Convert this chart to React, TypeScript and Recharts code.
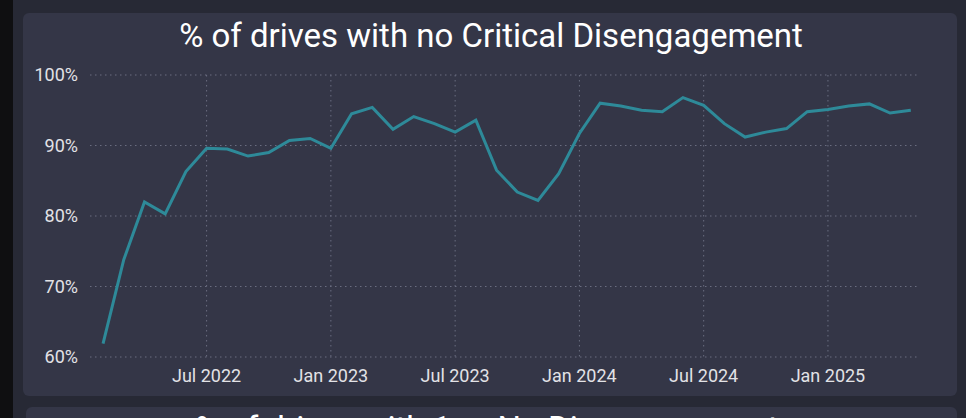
import { LineChart, Line, XAxis, YAxis, CartesianGrid } from 'recharts';

const C = {
  page: '#0f0f11',
  outer: '#272935',
  card: '#343647',
  line: '#2e8a99',
  grid: '#6a6d80',
  text: '#e2e2e6',
};

// month index 0 = Feb 2022 ... 39 = May 2025
const months = [
  'Feb 2022', 'Mar 2022', 'Apr 2022', 'May 2022', 'Jun 2022', 'Jul 2022', 'Aug 2022', 'Sep 2022',
  'Oct 2022', 'Nov 2022', 'Dec 2022', 'Jan 2023', 'Feb 2023', 'Mar 2023', 'Apr 2023', 'May 2023',
  'Jun 2023', 'Jul 2023', 'Aug 2023', 'Sep 2023', 'Oct 2023', 'Nov 2023', 'Dec 2023', 'Jan 2024',
  'Feb 2024', 'Mar 2024', 'Apr 2024', 'May 2024', 'Jun 2024', 'Jul 2024', 'Aug 2024', 'Sep 2024',
  'Oct 2024', 'Nov 2024', 'Dec 2024', 'Jan 2025', 'Feb 2025', 'Mar 2025', 'Apr 2025', 'May 2025',
];

const pctNoCritical = [
  61.9, 73.8, 82.0, 80.3, 86.3, 89.6, 89.5, 88.5, 89.0, 90.7,
  91.0, 89.6, 94.5, 95.4, 92.3, 94.1, 93.1, 91.9, 93.6, 86.5,
  83.4, 82.2, 86.0, 91.7, 96.0, 95.6, 95.0, 94.8, 96.8, 95.7,
  93.1, 91.2, 91.9, 92.4, 94.8, 95.1, 95.6, 95.9, 94.6, 95.0,
];

const xTicks = [5, 11, 17, 23, 29, 35];
const yTicks = [60, 70, 80, 90, 100];

const data = months.map((m, i) => ({ idx: i, label: m, value: pctNoCritical[i] }));

const FONT = 'Roboto, "Noto Sans", sans-serif';

export default function App() {
  return (
    <div
      style={{
        position: 'absolute', left: 0, top: 0, width: 966, height: 418,
        overflow: 'hidden', background: C.outer, fontFamily: FONT,
      }}
    >
      <div style={{ position: 'absolute', left: 0, top: 0, width: 13, height: 418, background: C.page }} />
      <div
        style={{
          position: 'absolute', left: 23, top: 13, width: 934, height: 383,
          background: C.card, borderRadius: 6,
        }}
      />
      <div
        style={{
          position: 'absolute', left: 26, top: 407, width: 931, height: 60,
          background: C.card, borderRadius: 6,
        }}
      />
      <div
        style={{
          position: 'absolute', left: 0, top: 14, width: 982, textAlign: 'center',
          color: '#ffffff', fontSize: 33, lineHeight: '44px',
        }}
      >
        % of drives with no Critical Disengagement
      </div>
      <div
        style={{
          position: 'absolute', left: 0, top: 407, width: 974, textAlign: 'center',
          color: '#ffffff', fontSize: 33, lineHeight: '44px',
        }}
      >
        % of drives with 1 or No Disengagement
      </div>
      <div style={{ position: 'absolute', left: 0, top: 0 }}>
        <LineChart
          width={966}
          height={390}
          data={data}
          margin={{ top: 75, right: 49, bottom: 3, left: 0 }}
        >
          <CartesianGrid
            stroke={C.grid}
            strokeDasharray="1.5 3.5"
            verticalValues={xTicks}
          />
          <XAxis
            dataKey="idx"
            type="number"
            domain={[-0.63, 39.3]}
            ticks={xTicks}
            tickFormatter={(v: number) => months[v]}
            axisLine={false}
            tickLine={false}
            tickMargin={6}
            height={30}
            interval={0}
            tick={{ fill: C.text, fontSize: 18, fontFamily: FONT }}
          />
          <YAxis
            domain={[60, 100]}
            ticks={yTicks}
            tickFormatter={(v: number) => `${v}%`}
            axisLine={false}
            tickLine={false}
            tickMargin={6}
            width={90}
            allowDataOverflow
            tick={{ fill: C.text, fontSize: 18, fontFamily: FONT }}
          />
          <Line
            type="linear"
            dataKey="value"
            stroke={C.line}
            strokeWidth={3}
            dot={false}
            isAnimationActive={false}
          />
        </LineChart>
      </div>
    </div>
  );
}
